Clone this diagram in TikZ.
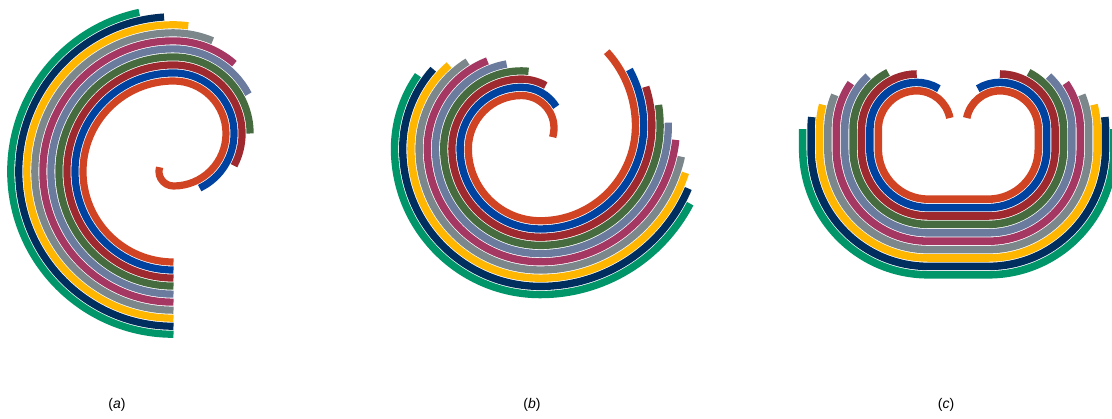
\documentclass[tikz,border=0pt]{standalone}
\usepackage{fontspec}
\setmainfont{Liberation Sans}
\definecolor{c0}{HTML}{D04424}
\definecolor{c1}{HTML}{0042A0}
\definecolor{c2}{HTML}{9E2A2F}
\definecolor{c3}{HTML}{466B3E}
\definecolor{c4}{HTML}{6B7B9E}
\definecolor{c5}{HTML}{A53863}
\definecolor{c6}{HTML}{7C878C}
\definecolor{c7}{HTML}{FFB600}
\definecolor{c8}{HTML}{002E5E}
\definecolor{c9}{HTML}{009669}
\tikzset{bandline/.style={line cap=butt, line join=round},
  caption/.style={font=\fontsize{14}{16}\selectfont, inner sep=0pt}}
% #1 segments cx/cy/r/from/to/lx/ly (screen coords, y down; lx/ly = straight piece after the arc)
% #2 band pitch, #3 bands k/start/end
\newcommand\drawspiral[3]{%
  \foreach \k/\s/\e in {#3} {%
    \gdef\mypath{}%
    \foreach \cx/\cy/\r/\pa/\pb/\lx/\ly in {#1} {%
      \pgfmathsetmacro\myR{\r+\k*#2}%
      \pgfmathsetmacro\myA{max(\s,\pa)}%
      \pgfmathsetmacro\myB{min(\e,\pb)}%
      \ifdim\myA pt<\myB pt
        \ifx\mypath\empty
          \pgfmathsetmacro\myX{\cx+\myR*cos(\myA)}%
          \pgfmathsetmacro\myY{\cy+\myR*sin(\myA)}%
          \xdef\mypath{(\myX,\myY)}%
        \fi
        \xdef\mypath{\mypath arc[start angle=-\myA, end angle=-\myB, radius=\myR pt]}%
      \fi
      \pgfmathtruncatemacro\hasline{((abs(\lx)+abs(\ly))>0)&&(\s<\pb+0.001)&&(\pb<\e+0.001)}%
      \ifnum\hasline=1
        \ifx\mypath\empty
          \pgfmathsetmacro\myX{\cx+\myR*cos(\pb)}%
          \pgfmathsetmacro\myY{\cy+\myR*sin(\pb)}%
          \xdef\mypath{(\myX,\myY)}%
        \fi
        \xdef\mypath{\mypath -- ++(\lx,\ly)}%
      \fi
    }%
    \pgfmathsetmacro\myW{#2-0.85}%
    \draw[bandline, color=c\k, line width=\myW pt] \mypath;
  }%
}
\begin{document}
\begin{tikzpicture}[x=1pt,y=-1pt]
\useasboundingbox (0,0) rectangle (1112,419);
\fill[white] (0,0) rectangle (1112,419);
\begin{scope}
\clip (0,0) rectangle (1112,419);
% (a)
\drawspiral{173.5/171.5/90.5/90/270/0/0, 173.5/133.5/52.5/270/450/0/0, 173.5/171.5/14.5/450/560/0/0}{8.03}
  {0/90/557, 1/90/424.4, 2/90/388, 3/90/360, 4/90/332.3, 5/90/311.1, 6/90/292.9, 7/90/277.8, 8/90/266.5, 9/90/257.85}
% (b)
\drawspiral{526/125.7/109.5/300/360/0/0, 540.4/125.7/95.1/360/450/0/0, 540.4/148.7/72.1/450/540/0/0, 521.5/148.7/53.2/540/630/0/0, 521.5/128/32.5/630/740/0/0}{8.2}
  {0/317.5/736.4, 1/331.5/688.6, 2/342/659.7, 3/351.1/637.1, 4/358.8/620, 5/366/608.8, 6/372.4/598.2, 7/378/589.1, 8/383/582, 9/387.5/575.4}
% (c)
\drawspiral{999.9/124.6/33.8/180/270/0/0, 999.9/129.2/38.4/270/360/0/20, 988.3/149.2/50/360/450/-60/0, 928.3/149.2/50/450/540/0/-20, 916.7/129.2/38.4/540/630/0/0, 916.7/124.6/33.8/630/720/0/0}{8.4}
  {0/191.3/708.7, 1/238.3/661.7, 2/270/630, 3/296.8/603.2, 4/312.5/587.5, 5/325/575, 6/337.3/562.7, 7/345.4/554.6, 8/353.4/546.6, 9/360/540}
\end{scope}
\node[caption] (la) at (117,405) {(\textit{a})};
\node[caption] (lb) at (532,405) {(\textit{b})};
\node[caption] (lc) at (946,405) {(\textit{c})};
\end{tikzpicture}
\end{document}
